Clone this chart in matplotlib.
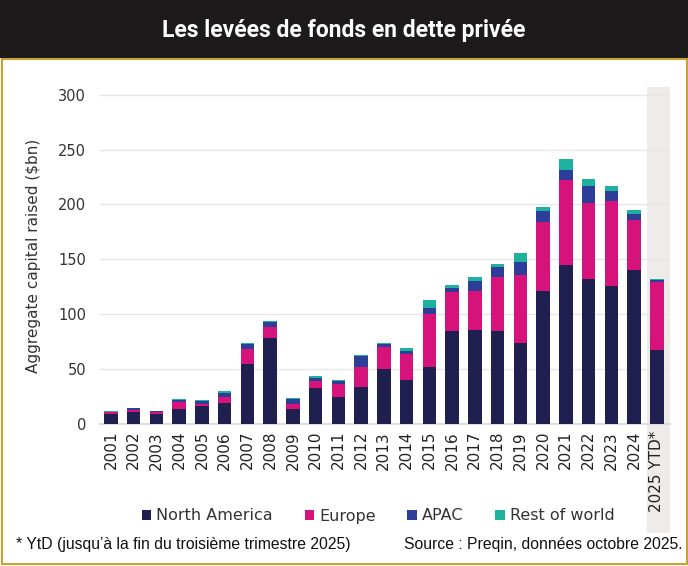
import matplotlib.pyplot as plt
from matplotlib.patches import Rectangle

years = ["2001", "2002", "2003", "2004", "2005", "2006", "2007", "2008", "2009", "2010",
         "2011", "2012", "2013", "2014", "2015", "2016", "2017", "2018", "2019", "2020",
         "2021", "2022", "2023", "2024", "2025 YTD*"]
north_america = [9, 11, 9, 14, 16.5, 19, 55, 78.5, 14, 33,
                 25, 34, 50, 40, 51.5, 85, 86, 85, 74, 121.5,
                 144.5, 132, 125.5, 140, 67]
europe = [1.5, 2, 1.5, 6, 1.7, 5.5, 13, 9.5, 4.5, 6.5,
          11.5, 18, 20, 24, 48.5, 35, 35, 49, 61.5, 62.5,
          78, 69, 78, 45.5, 62]
apac = [0.5, 1.5, 1, 1.7, 3, 4, 4.5, 4.5, 4.5, 2.5,
        2.5, 9.5, 2.5, 2.5, 6, 4, 9, 9, 12, 10,
        9, 16, 9, 5.5, 2]
rest_of_world = [1, 0.5, 0.7, 1, 1, 2, 1.5, 1, 1, 1.5,
                 1.5, 1, 1, 2.7, 7, 3, 4, 3, 8, 4,
                 9.5, 6.5, 4.5, 3.5, 1.5]

series = [("North America", north_america, "#1f2050"),
          ("Europe", europe, "#d6127b"),
          ("APAC", apac, "#2c3e98"),
          ("Rest of world", rest_of_world, "#1fb09e")]

W, H = 688, 566
fig = plt.figure(figsize=(W / 100, H / 100), dpi=100)
fig.patch.set_facecolor("white")

# title band and gold frame
fig.patches.append(Rectangle((0, 1 - 58 / H), 1, 58 / H, transform=fig.transFigure,
                             facecolor="#1c1a1b", edgecolor="none", zorder=-2))
fig.patches.append(Rectangle((1.5 / W, 2.5 / H), (W - 3) / W, (H - 61) / H, transform=fig.transFigure,
                             facecolor="none", edgecolor="#c9a233", linewidth=1.5, zorder=-2))
# grey column behind the YTD bar and its label
fig.patches.append(Rectangle((647 / W, 1 - 533 / H), 23 / W, (533 - 87) / H, transform=fig.transFigure,
                             facecolor="#eeebe8", edgecolor="none", zorder=-2))

fig.text(0.5, 1 - 31 / H, "Les levées de fonds en dette privée", color="white",
         ha="center", va="center", fontsize=16.5, fontweight="bold",
         family=["Roboto", "DejaVu Sans"])

ax = fig.add_axes([100 / W, 1 - 424 / H, 570 / W, 337 / H])
ax.set_facecolor("none")

x = list(range(len(years)))
bottom = [0] * len(years)
for name, vals, color in series:
    ax.bar(x, vals, width=0.59, bottom=bottom, color=color, label=name, zorder=3)
    bottom = [b + v for b, v in zip(bottom, vals)]

ax.set_xlim(-0.48, 24.58)
ax.set_ylim(0, 307)
ax.set_yticks(range(0, 301, 50))
ax.set_xticks(x)
ax.set_xticklabels(years, rotation=90, fontsize=11, color="#222222")
ax.tick_params(axis="y", labelsize=10.5, colors="#333333", length=0, pad=10)
ax.tick_params(axis="x", length=0, pad=5)
ax.yaxis.grid(True, color="#e6e6e6", linewidth=1, zorder=0)
for side in ("top", "right", "left"):
    ax.spines[side].set_visible(False)
ax.spines["bottom"].set_color("#dddddd")
ax.spines["bottom"].set_linewidth(1.5)
ax.set_ylabel("Aggregate capital raised ($bn)", fontsize=11, color="#333333", labelpad=12)

ax.legend(loc="center", bbox_to_anchor=(378 / W, 1 - 516 / H), bbox_transform=fig.transFigure,
          ncol=4, frameon=False, fontsize=11.5, handlelength=0.6, handleheight=0.6,
          handletextpad=0.3, columnspacing=2.0, labelcolor="#333333")

fig.text(16 / W, 1 - 545 / H, "* YtD (jusqu’à la fin du troisième trimestre 2025)",
         ha="left", va="center", fontsize=11.3, color="#111111",
         family=["Liberation Sans", "DejaVu Sans"])
fig.text(683 / W, 1 - 545 / H, "Source : Preqin, données octobre 2025.",
         ha="right", va="center", fontsize=11.3, color="#111111",
         family=["Liberation Sans", "DejaVu Sans"])

fig.savefig("out.png", dpi=100)
